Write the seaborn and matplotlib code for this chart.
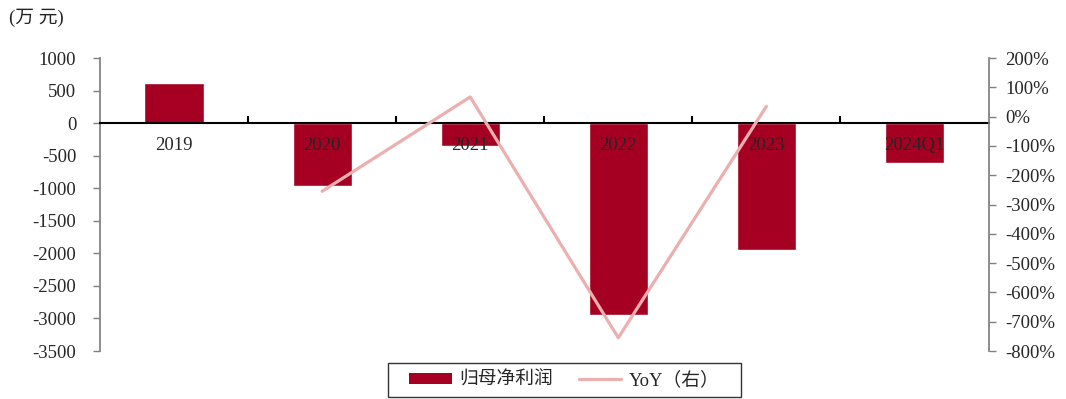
import matplotlib
matplotlib.use("Agg")
import matplotlib.pyplot as plt
from matplotlib.ticker import FixedLocator, FuncFormatter
from matplotlib.patches import Patch, Rectangle
from matplotlib.lines import Line2D
import seaborn as sns
import pandas as pd

# Net profit attributable to parent (10k CNY) and its YoY change (%)
categories = ["2019", "2020", "2021", "2022", "2023", "2024Q1"]
net_profit = [615, -965, -355, -2940, -1950, -612]
yoy_categories = ["2020", "2021", "2022", "2023"]
yoy_pct = [-255, 67, -755, 35]

left_ticks = [1000, 500, 0, -500, -1000, -1500, -2000, -2500, -3000, -3500]
right_ticks = [200, 100, 0, -100, -200, -300, -400, -500, -600, -700, -800]

bar_color = "#A50021"
line_color = "#EBAFAF"
spine_gray = "#808080"
fonts = ["Liberation Serif", "Noto Sans CJK SC", "DejaVu Sans"]
fs = 13.5

sns.set_theme(style="white")
plt.rcParams["font.family"] = fonts
plt.rcParams["axes.unicode_minus"] = False

W, H = 1066, 399
fig = plt.figure(figsize=(W / 100, H / 100), dpi=100)
ax = fig.add_axes([0.0938, 0.1203, 0.8335, 0.7343])

bars = pd.DataFrame({"cat": categories, "val": net_profit})
sns.barplot(data=bars, x="cat", y="val", order=categories, color=bar_color,
            width=0.4, saturation=1, ax=ax, zorder=2)
ax.set_axisbelow(False)
ax.set_xlim(-0.5, len(categories) - 0.5)
ax.set_ylim(-3500, 1000)
ax.set_xlabel("")
ax.set_ylabel("")

# Left axis
ax.yaxis.set_major_locator(FixedLocator(left_ticks))
ax.yaxis.set_major_formatter(FuncFormatter(lambda v, p: f"{int(v)}"))
ax.tick_params(axis="y", which="major", direction="out", length=5, width=1,
               color=spine_gray, labelsize=fs, pad=12, left=True)

# Category axis on the zero line
ax.spines["bottom"].set_position(("data", 0))
ax.spines["bottom"].set_color("black")
ax.spines["bottom"].set_linewidth(1.5)
ax.spines["bottom"].set_zorder(3)
ax.spines["left"].set_color(spine_gray)
ax.spines["right"].set_visible(False)
ax.spines["top"].set_visible(False)
ax.set_xticks(range(len(categories)))
ax.set_xticklabels(categories)
ax.set_xticks([i + 0.5 for i in range(len(categories) - 1)], minor=True)
ax.tick_params(axis="x", which="major", length=0, labelsize=fs, pad=10)
ax.tick_params(axis="x", which="minor", direction="in", length=5, width=1.5,
               color="black", bottom=True)

# YoY line on the right axis
ax2 = ax.twinx()
pos = {c: i for i, c in enumerate(categories)}
line = pd.DataFrame({"x": [pos[c] for c in yoy_categories], "y": yoy_pct})
sns.lineplot(data=line, x="x", y="y", color=line_color, linewidth=2.3,
             ax=ax2, zorder=4)
ax2.set_ylim(-800, 200)
ax2.set_xlim(-0.5, len(categories) - 0.5)
ax2.set_ylabel("")
ax2.yaxis.set_major_locator(FixedLocator(right_ticks))
ax2.yaxis.set_major_formatter(FuncFormatter(lambda v, p: f"{int(v)}%"))
ax2.tick_params(axis="y", direction="out", length=5, width=1, color=spine_gray,
                labelsize=fs, pad=7, right=True)
for sp in ["left", "top", "bottom"]:
    ax2.spines[sp].set_visible(False)
ax2.spines["right"].set_color(spine_gray)
ax2.set_zorder(ax.get_zorder() + 1)
ax2.patch.set_visible(False)

fig.text(0.008, 0.955, "(万 元)", fontsize=fs, family=fonts, ha="left", va="center",
         color="#222222")

# Legend with a wide box drawn around it
handles = [Patch(facecolor=bar_color, edgecolor="none"),
           Line2D([0], [0], color=line_color, linewidth=2.3)]
leg = fig.legend(handles, ["归母净利润", "YoY（右）"], loc="center",
                 bbox_to_anchor=(564.5 / W, 1 - 380 / H), ncol=2, frameon=False,
                 handlelength=2.25, handleheight=0.55, handletextpad=0.4,
                 columnspacing=1.4, borderpad=0.3,
                 prop={"family": fonts, "size": fs})
fig.patches.append(Rectangle((388 / W, 1 - 397 / H), 353 / W, 34 / H,
                             transform=fig.transFigure, fill=False,
                             edgecolor="#333333", linewidth=1))

fig.savefig("out.png", dpi=100)
